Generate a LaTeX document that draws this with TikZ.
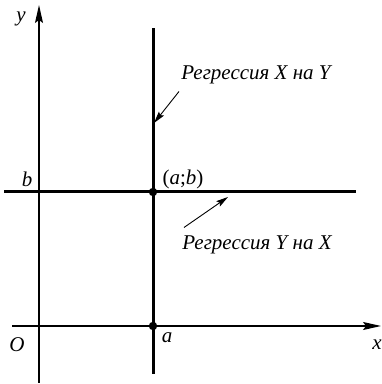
\documentclass[tikz,border=0pt]{standalone}
\usepackage{fontspec}
\setmainfont{Liberation Serif}
\usetikzlibrary{arrows.meta,positioning,calc}

\begin{document}
\begin{tikzpicture}[
      x=0.5pt,y=0.5pt,
      font=\fontsize{10.5}{12}\selectfont,
      axis/.style={line width=0.7pt,-{Stealth[length=9pt,width=4pt,inset=1.5pt]}},
      regline/.style={line width=1.5pt},
      callout/.style={line width=0.45pt,-{Stealth[length=6pt,width=3.2pt,inset=1pt]}},
      lbl/.style={font=\fontsize{10.5}{12}\selectfont\itshape,inner sep=1pt},
      dot/.style={circle,fill,inner sep=0pt,minimum size=4.2pt},
    ]
    \useasboundingbox (0,0) rectangle (381,384);

    % Axes
    \coordinate (xs) at (12,58);
    \coordinate (xe) at (381,58);
    \coordinate (ys) at (39,1);
    \coordinate (ye) at (39,379);
    \draw[axis] (xs) -- (xe);
    \draw[axis] (ys) -- (ye);

    % Regression lines
    \coordinate (vs) at (153,10);
    \coordinate (ve) at (153,356);
    \coordinate (hs) at (4,192);
    \coordinate (he) at (356,192);
    \draw[regline] (vs) -- (ve);
    \draw[regline] (hs) -- (he);

    % Points
    \node[dot] (ab) at (153,192) {};
    \node[dot] (a)  at (153,58) {};

    % Axis labels
    \node[lbl] (ylab) at (21,365) {y};
    \node[lbl] (xlab) at (377,39) {x};
    \node[lbl] (olab) at (17,39) {O};
    \node[lbl] (blab) at (27,205) {b};
    \node[lbl] (alab) at (167,46) {a};
    \node[inner sep=1pt] (ablab) at (183,205) {(\textit{a};\textit{b})};

    % Callouts
    \node[lbl] (xony) at (256,309) {Регрессия X на Y};
    \node[lbl] (yonx) at (257,139) {Регрессия Y на X};
    \coordinate (p1) at (154,261);
    \coordinate (p2) at (228,187);
    \draw[callout] ($(xony.south west)+(0,-5)$) -- (p1);
    \draw[callout] ($(yonx.north west)+(4,6)$) -- (p2);

  \end{tikzpicture}
\end{document}
